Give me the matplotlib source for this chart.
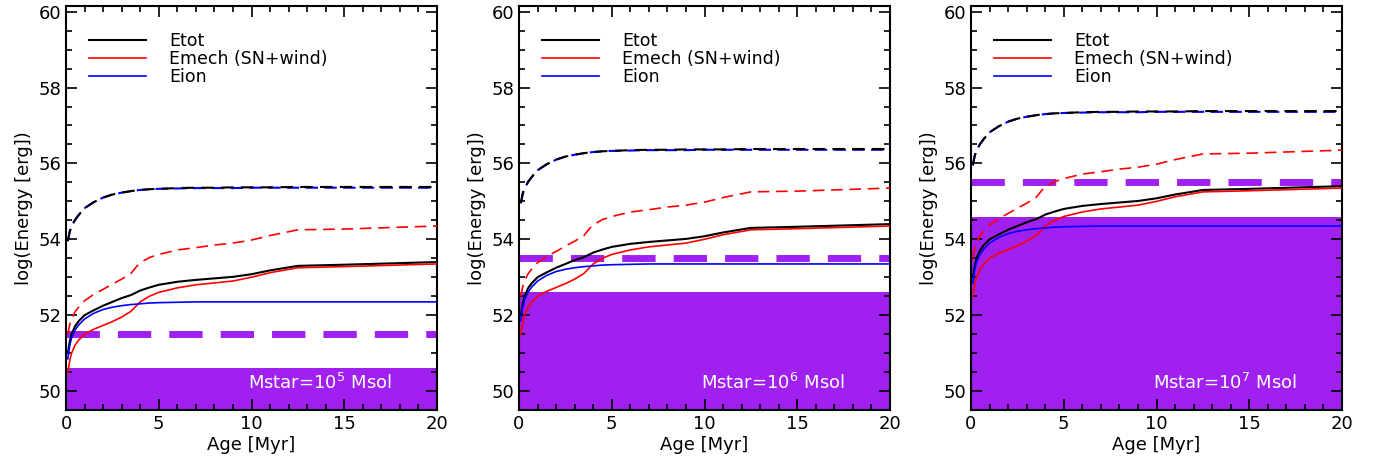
import numpy as np
import matplotlib
matplotlib.use("Agg")
import matplotlib.pyplot as plt
from matplotlib.ticker import MultipleLocator

# edad (Myr)
age = [0.1, 0.2, 0.3, 0.5, 0.7, 1, 1.5, 2, 2.5, 3, 3.5, 3.8, 4, 4.5, 5, 6, 7, 8, 9, 10, 11, 12.5, 15, 20]

# curvas para Mstar = 10^5 Msol (log erg); los otros paneles escalan con la masa
etot = [51.0, 51.3, 51.5, 51.72, 51.85, 52.0, 52.13, 52.25, 52.35, 52.45, 52.53, 52.6, 52.65, 52.73,
        52.8, 52.88, 52.93, 52.97, 53.01, 53.08, 53.18, 53.3, 53.33, 53.4]
emech = [50.5, 50.8, 51.0, 51.22, 51.35, 51.5, 51.63, 51.73, 51.83, 51.95, 52.1, 52.25, 52.35, 52.5,
         52.6, 52.72, 52.8, 52.85, 52.9, 53.0, 53.12, 53.25, 53.28, 53.35]
eion = [50.85, 51.2, 51.4, 51.62, 51.75, 51.9, 52.05, 52.15, 52.21, 52.25, 52.28, 52.29, 52.3, 52.32,
        52.33, 52.34, 52.35, 52.35, 52.35, 52.35, 52.35, 52.35, 52.35, 52.35]
etot_d = [53.95, 54.2, 54.35, 54.52, 54.65, 54.82, 54.98, 55.1, 55.18, 55.23, 55.27, 55.29, 55.3, 55.32,
          55.33, 55.35, 55.36, 55.36, 55.37, 55.37, 55.37, 55.38, 55.38, 55.38]
eion_d = [53.95, 54.2, 54.35, 54.52, 54.65, 54.82, 54.98, 55.1, 55.18, 55.23, 55.27, 55.29, 55.3, 55.32,
          55.33, 55.34, 55.35, 55.35, 55.35, 55.36, 55.36, 55.36, 55.36, 55.36]
emech_d = [51.5, 51.75, 51.9, 52.1, 52.22, 52.38, 52.55, 52.68, 52.82, 52.95, 53.1, 53.28, 53.38, 53.52,
           53.6, 53.72, 53.78, 53.85, 53.9, 53.98, 54.1, 54.25, 54.27, 54.35]

log_mstar = [5, 6, 7]
e_limit = [51.5, 53.5, 55.5]   # linea morada discontinua
e_fill = [50.6, 52.6, 54.6]    # tope de la zona rellena

purple = "#a020f0"
fs = 13
fig = plt.figure(figsize=(13.8, 4.7), dpi=100)
lefts = [66, 519, 971]

for i, lm in enumerate(log_mstar):
    off = lm - log_mstar[0]
    ax = fig.add_axes([lefts[i] / 1380, 60 / 470, 371 / 1380, 404 / 470])
    ax.axhspan(49.0, e_fill[i], color=purple, lw=0, zorder=1)
    ax.axhline(e_limit[i], color=purple, lw=5, dashes=(4.8, 2.6), zorder=2)
    ax.plot(age, np.array(eion_d) + off, color="blue", lw=1.5, dashes=(6, 3), zorder=3)
    ax.plot(age, np.array(etot_d) + off, color="black", lw=1.5, dashes=(6, 3.5), zorder=3)
    ax.plot(age, np.array(emech_d) + off, color="red", lw=1.2, dashes=(7, 4), zorder=3)
    ax.plot(age, np.array(etot) + off, color="black", lw=1.5, label="Etot", zorder=4)
    ax.plot(age, np.array(emech) + off, color="red", lw=1.2, label="Emech (SN+wind)", zorder=4)
    ax.plot(age, np.array(eion) + off, color="blue", lw=1.2, label="Eion", zorder=4)
    ax.set_xlim(0, 20)
    ax.set_ylim(49.5, 60.15)
    ax.xaxis.set_major_locator(MultipleLocator(5))
    ax.xaxis.set_minor_locator(MultipleLocator(1))
    ax.yaxis.set_major_locator(MultipleLocator(2))
    ax.yaxis.set_minor_locator(MultipleLocator(0.5))
    ax.tick_params(which="both", direction="in", top=True, right=True, labelsize=fs, width=1.2)
    ax.tick_params(which="major", length=8)
    ax.tick_params(which="minor", length=4)
    for s in ax.spines.values():
        s.set_linewidth(1.5)
    ax.set_xlabel("Age [Myr]", fontsize=fs, labelpad=2)
    ax.set_ylabel("log(Energy [erg])", fontsize=fs, labelpad=4)
    ax.legend(loc="upper left", frameon=False, fontsize=12.5, handlelength=3.3,
              handletextpad=1.3, labelspacing=0.02, bbox_to_anchor=(0.02, 0.975))
    ax.text(17.6, 50.05, "Mstar=10$^{%d}$ Msol" % lm, color="white", fontsize=fs, ha="right")

fig.savefig("out.png", dpi=100)
